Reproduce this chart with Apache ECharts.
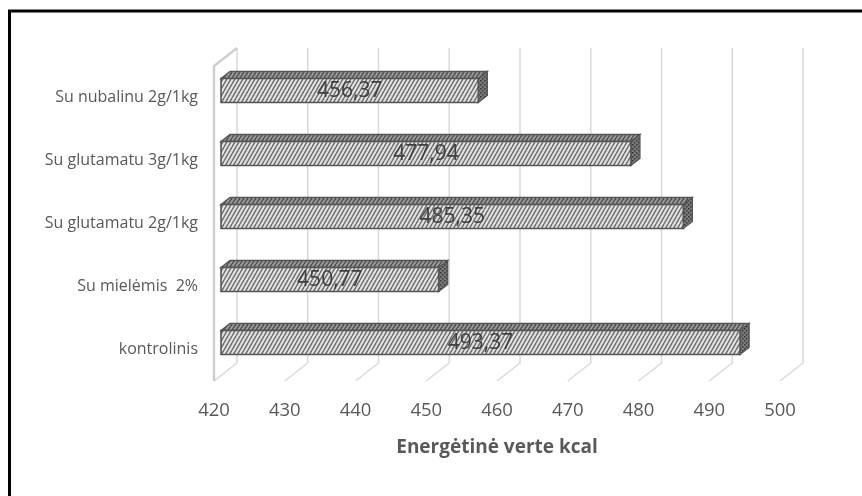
<!DOCTYPE html>
<html><head><meta charset="utf-8">
<script src="https://cdn.jsdelivr.net/npm/echarts@6/dist/echarts.min.js"></script>
<style>html,body{margin:0;padding:0;background:#fff}#c{width:862px;height:496px}</style>
</head><body><div id="c"></div>
<script>
const categories = ['kontrolinis', 'Su mielėmis  2%', 'Su glutamatu 2g/1kg', 'Su glutamatu 3g/1kg', 'Su nubalinu 2g/1kg'];
const values = [493.37, 450.77, 485.35, 477.94, 456.37];
const tickValues = [420, 430, 440, 450, 460, 470, 480, 490, 500];
const axisTitle = 'Energėtinė verte kcal';

const FONT = '"Open Sans", sans-serif';
const axisMin = tickValues[0], axisMax = tickValues[tickValues.length - 1];

function hatch(bg, fg, w, h, lw) {
  const c = document.createElement('canvas'); c.width = w; c.height = h;
  const g = c.getContext('2d');
  g.fillStyle = bg; g.fillRect(0, 0, w, h);
  g.strokeStyle = fg; g.lineWidth = lw;
  for (let k = -1; k <= 1; k++) { g.beginPath(); g.moveTo(k * w, h); g.lineTo(k * w + w, 0); g.stroke(); }
  return { image: c, repeat: 'repeat' };
}
function dots(bg, fg, s) {
  const c = document.createElement('canvas'); c.width = s; c.height = s;
  const g = c.getContext('2d');
  g.fillStyle = bg; g.fillRect(0, 0, s, s);
  g.fillStyle = fg; g.fillRect(0, 0, 1.5, 1.5); g.fillRect(s / 2, s / 2, 1.5, 1.5);
  return { image: c, repeat: 'repeat' };
}
const frontPat = hatch('#e4e4e4', '#6e6e6e', 4, 7, 1.5);
const topPat = hatch('#9a9a9a', '#4e4e4e', 4, 6, 1.3);
const endPat = dots('#7a7a7a', '#333333', 4);

const chart = echarts.init(document.getElementById('c'), null, { renderer: 'canvas' });
chart.setOption({
  animation: false,
  backgroundColor: '#fff',
  graphic: [{
    type: 'polyline', z: 100,
    shape: { points: [[9.5, 500], [9.5, 11], [870, 11]] },
    style: { stroke: '#000', lineWidth: 3, fill: null }
  }],
  grid: { left: 214, right: 82, top: 66, height: 315 },
  xAxis: {
    type: 'value', min: axisMin, max: axisMax, interval: 10,
    axisLine: { show: false }, axisTick: { show: false }, splitLine: { show: false },
    axisLabel: { color: '#595959', fontSize: 18.5, fontFamily: FONT, margin: 20 },
    name: axisTitle, nameLocation: 'middle', nameGap: 57,
    nameTextStyle: { color: '#595959', fontSize: 19, fontWeight: 'bold', fontFamily: FONT }
  },
  yAxis: {
    type: 'category', data: categories,
    axisLine: { show: false }, axisTick: { show: false }, splitLine: { show: false },
    axisLabel: { color: '#595959', fontSize: 16, fontFamily: FONT, margin: 16 }
  },
  series: [
    {
      type: 'custom', z: 1,
      data: tickValues.map(v => [v, 0]),
      encode: { x: 0, y: 1 },
      renderItem: function (params, api) {
        const v = api.value(0); const cs = params.coordSys;
        const xf = api.coord([v, 0])[0];
        const fb = cs.y + cs.height;
        const DX = 23, DY = 18;
        const ch = [{
          type: 'polyline',
          shape: { points: [[xf + DX, cs.y - DY], [xf + DX, fb - DY], [xf, fb]] },
          style: { stroke: '#d9d9d9', lineWidth: 1.5, fill: null }
        }];
        if (params.dataIndex === 0) {
          ch.push({
            type: 'polyline',
            shape: { points: [[xf + DX, cs.y - DY], [xf, cs.y], [xf, fb]] },
            style: { stroke: '#cfcfcf', lineWidth: 2.5, fill: null }
          });
        }
        return { type: 'group', children: ch };
      }
    },
    {
      type: 'custom', z: 5,
      data: values.map((v, i) => [v, i]),
      encode: { x: 0, y: 1 },
      renderItem: function (params, api) {
        const v = api.value(0), idx = api.value(1);
        const p0 = api.coord([axisMin, idx]); const p1 = api.coord([v, idx]);
        const cy = p0[1];
        const xl = p0[0] + 7, xr = p1[0] + 7, top = cy - 19, bot = cy + 5, dx = 9, dy = 7;
        return {
          type: 'group', children: [
            { type: 'polygon', shape: { points: [[xl, top], [xl + dx, top - dy], [xr + dx, top - dy], [xr, top]] },
              style: { fill: topPat, stroke: '#555555', lineWidth: 1.3 } },
            { type: 'polygon', shape: { points: [[xr, top], [xr + dx, top - dy], [xr + dx, bot - dy], [xr, bot]] },
              style: { fill: endPat, stroke: '#555555', lineWidth: 1.3 } },
            { type: 'rect', shape: { x: xl, y: top, width: xr - xl, height: bot - top },
              style: { fill: frontPat, stroke: '#555555', lineWidth: 1.6 } },
            { type: 'text', x: (xl + xr) / 2, y: (top + bot) / 2 + 1,
              style: { text: v.toFixed(2).replace('.', ','), fill: '#404040', fontSize: 21, fontFamily: FONT,
                       align: 'center', verticalAlign: 'middle' } }
          ]
        };
      }
    }
  ]
});
</script></body></html>
